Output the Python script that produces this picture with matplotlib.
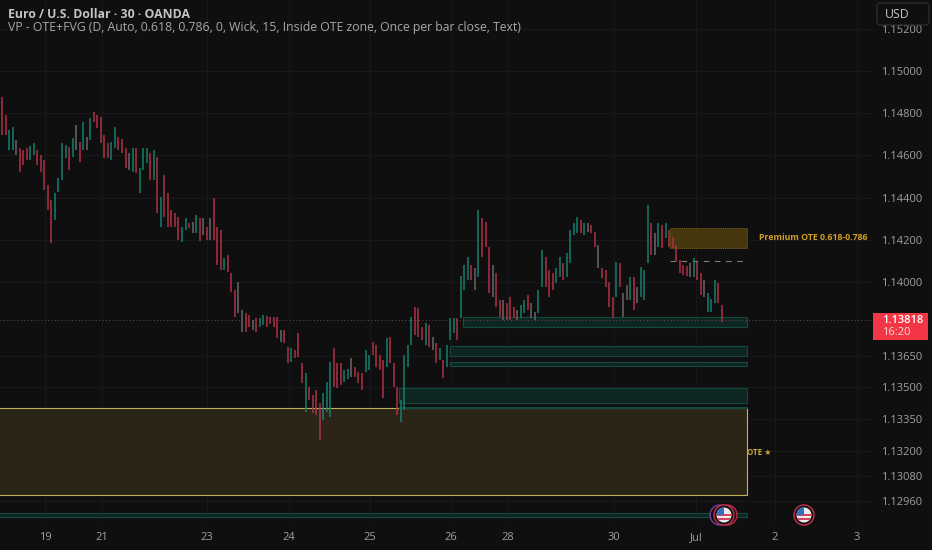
import matplotlib
matplotlib.use("Agg")
import matplotlib.pyplot as plt
from matplotlib.patches import Rectangle, Circle, FancyBboxPatch

plt.rcParams['font.family'] = ['Open Sans', 'DejaVu Sans']

BG = '#0f0f0f'
GRID = '#181818'

# 30 min bars
bar_high = [
    1.14877, 1.14791, 1.14720, 1.14735, 1.14673, 1.14635, 1.14626, 1.14635, 1.14645, 1.14659,
    1.14626, 1.14602, 1.14578, 1.14460, 1.14389, 1.14422, 1.14493, 1.14659, 1.14649, 1.14640,
    1.14682, 1.14744, 1.14663, 1.14758, 1.14687, 1.14777, 1.14806, 1.14791, 1.14782, 1.14697,
    1.14659, 1.14663, 1.14735, 1.14687, 1.14678, 1.14635, 1.14612, 1.14635, 1.14635, 1.14540,
    1.14635, 1.14635, 1.14612, 1.14626, 1.14592, 1.14403, 1.14507, 1.14422, 1.14341, 1.14327,
    1.14308, 1.14261, 1.14303, 1.14280, 1.14284, 1.14317, 1.14303, 1.14303, 1.14261, 1.14303,
    1.14398, 1.14261, 1.14246, 1.14114, 1.14128, 1.14043, 1.13962, 1.14000, 1.13867, 1.13853,
    1.13843, 1.13820, 1.13829, 1.13829, 1.13843, 1.13839, 1.13834, 1.13834, 1.13834, 1.13772,
    1.13772, 1.13692, 1.13687, 1.13680, 1.13758, 1.13616, 1.13569, 1.13502, 1.13465, 1.13488,
    1.13426, 1.13474, 1.13526, 1.13621, 1.13687, 1.13616, 1.13616, 1.13583, 1.13590, 1.13640,
    1.13597, 1.13573, 1.13569, 1.13678, 1.13654, 1.13715, 1.13701, 1.13654, 1.13630, 1.13734,
    1.13739, 1.13616, 1.13502, 1.13441, 1.13654, 1.13701, 1.13834, 1.13881, 1.13877, 1.13787,
    1.13806, 1.13796, 1.13739, 1.13711, 1.13687, 1.13630, 1.13701, 1.13829, 1.13829, 1.13829,
    1.14030, 1.14080, 1.14118, 1.14080, 1.14066, 1.14341, 1.14303, 1.14284, 1.14166, 1.14080,
    1.14043, 1.13915, 1.13915, 1.13900, 1.13929, 1.13881, 1.13867, 1.13891, 1.13915, 1.13938,
    1.13900, 1.13858, 1.13962, 1.14152, 1.14118, 1.14057, 1.14043, 1.14066, 1.14118, 1.14090,
    1.14137, 1.14246, 1.14280, 1.14308, 1.14294, 1.14280, 1.14280, 1.14270, 1.14237, 1.14175,
    1.14066, 1.14057, 1.14000, 1.13929, 1.14095, 1.14090, 1.13948, 1.13986, 1.14024, 1.14024,
    1.13976, 1.14071, 1.14057, 1.14365, 1.14280, 1.14232, 1.14280, 1.14270, 1.14280, 1.14246,
    1.14213, 1.14175, 1.14104, 1.14080, 1.14075, 1.14090, 1.14114, 1.14095, 1.14043, 1.14009,
    1.13948, 1.13920, 1.14009, 1.13995, 1.13891,
]
bar_low = [
    1.14697, 1.14697, 1.14626, 1.14626, 1.14602, 1.14521, 1.14555, 1.14578, 1.14578, 1.14602,
    1.14555, 1.14521, 1.14436, 1.14341, 1.14185, 1.14294, 1.14427, 1.14483, 1.14588, 1.14531,
    1.14592, 1.14626, 1.14569, 1.14626, 1.14626, 1.14673, 1.14758, 1.14730, 1.14659, 1.14588,
    1.14588, 1.14578, 1.14635, 1.14626, 1.14612, 1.14540, 1.14531, 1.14521, 1.14517, 1.14422,
    1.14531, 1.14564, 1.14483, 1.14483, 1.14327, 1.14261, 1.14308, 1.14261, 1.14261, 1.14261,
    1.14199, 1.14189, 1.14246, 1.14256, 1.14232, 1.14232, 1.14194, 1.14222, 1.14199, 1.14199,
    1.14199, 1.14080, 1.14057, 1.14057, 1.14047, 1.13952, 1.13834, 1.13853, 1.13763, 1.13763,
    1.13787, 1.13772, 1.13763, 1.13787, 1.13796, 1.13787, 1.13800, 1.13787, 1.13734, 1.13715,
    1.13711, 1.13616, 1.13621, 1.13640, 1.13644, 1.13521, 1.13384, 1.13441, 1.13379, 1.13369,
    1.13251, 1.13346, 1.13384, 1.13360, 1.13502, 1.13497, 1.13512, 1.13526, 1.13540, 1.13550,
    1.13550, 1.13521, 1.13488, 1.13573, 1.13583, 1.13654, 1.13597, 1.13583, 1.13450, 1.13597,
    1.13616, 1.13502, 1.13369, 1.13336, 1.13393, 1.13597, 1.13701, 1.13749, 1.13739, 1.13725,
    1.13701, 1.13692, 1.13678, 1.13616, 1.13630, 1.13545, 1.13597, 1.13725, 1.13758, 1.13725,
    1.13830, 1.13962, 1.14009, 1.14009, 1.13962, 1.14024, 1.14118, 1.14166, 1.13948, 1.13929,
    1.13881, 1.13834, 1.13820, 1.13820, 1.13820, 1.13829, 1.13820, 1.13829, 1.13853, 1.13867,
    1.13829, 1.13820, 1.13853, 1.13976, 1.13976, 1.13929, 1.13962, 1.13995, 1.14024, 1.14009,
    1.14024, 1.14090, 1.14222, 1.14232, 1.14232, 1.14222, 1.14237, 1.14232, 1.14166, 1.14066,
    1.14019, 1.13976, 1.13881, 1.13829, 1.13929, 1.13976, 1.13834, 1.13915, 1.13915, 1.13867,
    1.13900, 1.13929, 1.13915, 1.14090, 1.14128, 1.14128, 1.14166, 1.14161, 1.14208, 1.14166,
    1.14161, 1.14095, 1.14043, 1.14033, 1.14030, 1.14024, 1.14024, 1.14009, 1.13938, 1.13929,
    1.13858, 1.13860, 1.13900, 1.13900, 1.13810,
]
# u = up, d = down, n = about flat
bar_side = list(
    "dduunddduu"
    "ddddduuuud"
    "undunudddd"
    "duudddnudu"
    "uudududddd"
    "duudnudndn"
    "dddudddnnd"
    "dnduuddddn"
    "dduddduddd"
    "duuuddduun"
    "ddduuddddu"
    "ddduuuuddd"
    "udnduduuud"
    "uuudnudddn"
    "ddndddnuud"
    "nnuuddduud"
    "uuuudunddn"
    "ddddudnnud"
    "nuuudnudud"
    "dddddnuddn"
    "uuudd"
)
last_price = 1.13818

price_ticks = [1.152, 1.150, 1.148, 1.146, 1.144, 1.142, 1.140,
               1.1365, 1.135, 1.1335, 1.132, 1.1308, 1.1296]
day_bars = [12.2, 28.3, 58.1, 81.3, 104.2, 127.2, 143.3, 173.4, 196.6, 219, 242.2]
day_labels = ['19', '21', '23', '24', '25', '26', '28', '30', 'Jul', '2', '3']

# zones: first bar, top price, bottom price
zone_end = 211
fvg_start = [130.6, 126.9, 126.9, 112.5, 112.5, -1]
fvg_top = [1.13834, 1.13697, 1.13622, 1.13497, 1.13408, 1.12905]
fvg_bottom = [1.13787, 1.13649, 1.13603, 1.13426, 1.13403, 1.12886]
premium_start, premium_top, premium_bottom = 189.2, 1.14256, 1.14161
premium_mid = 1.14100
ote_top, ote_bottom = 1.13403, 1.12990

fig = plt.figure(figsize=(9.32, 5.5), dpi=100, facecolor=BG)
ax = fig.add_axes([0, 28 / 550, 872 / 932, 522 / 550], facecolor=BG)
ax.set_xlim(-0.57, 246.5)
ax.set_ylim(1.15 - 451 / 21100, 1.15 + 71 / 21100)

for s in ax.spines.values():
    s.set_visible(False)
ax.yaxis.tick_right()
ax.set_yticks(price_ticks)
ax.set_yticklabels([f'{p:.5f}' for p in price_ticks])
ax.set_xticks(day_bars)
ax.set_xticklabels(day_labels)
ax.tick_params(axis='both', length=0, colors='#a0a0a0', labelsize=8)
ax.tick_params(axis='y', pad=6.5)
ax.tick_params(axis='x', pad=7.5)
ax.grid(True, color=GRID, lw=0.8)
ax.set_axisbelow(True)

# yellow OTE block
ax.add_patch(Rectangle((-1, ote_bottom), zone_end + 1, ote_top - ote_bottom,
                       fc='#2b2518', ec='#bfb25c', lw=0.8, zorder=1.5))
# green FVG blocks
for x0, top, bot in zip(fvg_start, fvg_top, fvg_bottom):
    ax.add_patch(Rectangle((x0, bot), zone_end - x0, top - bot,
                           fc='#0e2622', ec='#124a40', lw=0.8, zorder=1.6))
# premium block
ax.add_patch(Rectangle((premium_start, premium_bottom), zone_end - premium_start,
                       premium_top - premium_bottom,
                       fc='#47370f', ec='#7c621c', lw=0.7, ls=(0, (1, 1)), zorder=1.6))
ax.plot([premium_start, zone_end], [premium_mid, premium_mid], color='#7d7d7d',
        lw=0.8, ls=(0, (5, 5)), zorder=1.7)

ax.axhline(last_price, color='#6d4a4f', lw=0.7, ls=(0, (1, 2.5)), zorder=1.8)

side_colors = {'u': '#14806c', 'd': '#b02f47', 'n': '#6b6468'}
ax.vlines(range(len(bar_high)), bar_low, bar_high,
          colors=[side_colors[c] for c in bar_side], lw=1.1, zorder=3)

# everything below sits in plain pixel coordinates, on top
ov = fig.add_axes([0, 0, 1, 1], facecolor='none')
ov.set_xlim(0, 932)
ov.set_ylim(550, 0)
ov.axis('off')

ov.text(8, 14, 'Euro / U.S. Dollar · 30 · OANDA', color='#c4c4c4', fontsize=8.8,
        fontweight='bold', va='center')
ov.text(8, 28, 'VP - OTE+FVG (D, Auto, 0.618, 0.786, 0, Wick, 15, Inside OTE zone, '
        'Once per bar close, Text)', color='#a8a8a8', fontsize=8.85, va='center')
ov.text(759, 238, 'Premium OTE 0.618-0.786', color='#d19f25', fontsize=6.3,
        fontweight='bold', va='center')
ov.text(747, 452, 'OTE ★', color='#c9a83a', fontsize=5.8, fontweight='bold', va='center')

# USD button
ov.add_patch(FancyBboxPatch((877, 3), 52, 22, boxstyle='round,pad=0,rounding_size=3',
                            fc=BG, ec='#2e2e2e', lw=0.9))
ov.text(885, 14.5, 'USD', color='#c4c4c4', fontsize=8.8, va='center')

# last price tag
ov.add_patch(Rectangle((873, 313), 55, 27, fc='#f23645', ec='none'))
ov.text(882, 320.5, '1.13818', color='#ffffff', fontsize=8, va='center', fontweight='semibold')
ov.text(882, 332.5, '16:20', color='#ffd5da', fontsize=8, va='center')

# event flags
def flag(cx, cy, ring='#b92e48'):
    ov.add_patch(Circle((cx, cy), 10, fc=BG, ec=ring, lw=1.1, zorder=5))
    disc = Circle((cx, cy), 7.5, fc='#ececec', ec='none', zorder=6)
    ov.add_patch(disc)
    for y0 in (cy - 1, cy + 3):
        band = Rectangle((cx - 8, y0), 16, 2.2, fc='#d8455a', ec='none', zorder=7)
        ov.add_patch(band)
        band.set_clip_path(disc)
    canton = Rectangle((cx - 8, cy - 8), 8, 7.5, fc='#2f6fc4', ec='none', zorder=8)
    ov.add_patch(canton)
    canton.set_clip_path(disc)

ov.add_patch(Circle((720, 515), 10, fc=BG, ec='#7a3fa0', lw=1, zorder=4))
ov.add_patch(Circle((727, 515), 10, fc=BG, ec='#b92e48', lw=1, zorder=4))
flag(724, 515)
flag(804, 515)

fig.savefig('out.png', dpi=100, facecolor=BG)
plt.close(fig)
